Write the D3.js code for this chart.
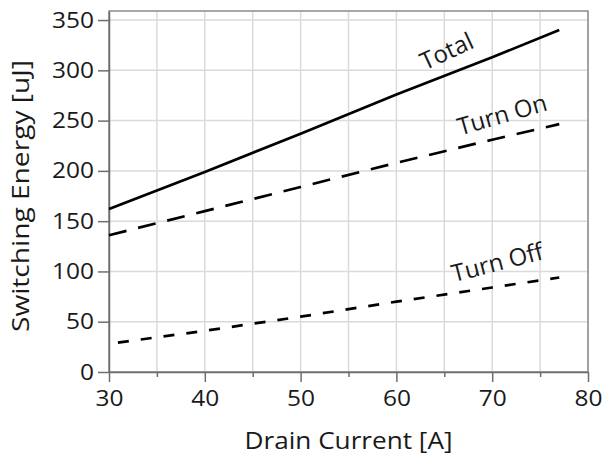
<!DOCTYPE html>
<html lang="en">
    <head>
        <title>Switching Energy</title>
        <script src="https://d3js.org/d3.v7.min.js" charset="utf-8"></script>
    </head>
    <style>
            body { margin: 0; background: #fff; }
            text { font-family: "Open Sans", "Noto Sans", sans-serif; fill: #1a1a1a; }
            .grid line { stroke: #dadada; stroke-width: 1.5px; }
            .frame { fill: none; stroke: #8c8c8c; stroke-width: 1.5px; }
            .axis path { stroke: #6e6e6e; stroke-width: 1.5px; }
            .axis line { stroke: #6e6e6e; stroke-width: 1.5px; }
            .axis text { font-size: 22px; fill: #1a1a1a; }
            .series { fill: none; stroke: #000; stroke-width: 2.7px; }
            .label { font-size: 24px; }
    </style>
    <body>
        <script>
            // values
            var current = [30, 40, 50, 60, 70, 77];
            var totalE = [162, 199, 237, 276, 313, 340];
            var turnOnE = [136, 160, 184, 208, 231, 246.5];
            var turnOffE = [28, 41, 55, 70, 84, 94];
            var xTicks = [30, 40, 50, 60, 70, 80];
            var xMinor = [35, 45, 55, 65, 75];
            var yTicks = [0, 50, 100, 150, 200, 250, 300, 350];

            var width = 605, height = 461;
            var margin = {top: 11, right: 17, bottom: 89, left: 109};

            var svg = d3.select("body").append("svg")
                .attr("width", width)
                .attr("height", height);

            var x = d3.scaleLinear()
                .domain([30, 80])
                .range([margin.left, width - margin.right]);
            var y = d3.scaleLinear()
                .domain([0, 359])
                .range([height - margin.bottom, margin.top]);

            // grid
            var grid = svg.append("g").attr("class", "grid");
            grid.selectAll(".gx")
                .data(xTicks.concat(xMinor))
                .enter().append("line")
                .attr("x1", x).attr("x2", x)
                .attr("y1", y(0)).attr("y2", margin.top);
            grid.selectAll(".gy")
                .data(yTicks)
                .enter().append("line")
                .attr("y1", y).attr("y2", y)
                .attr("x1", x(30)).attr("x2", x(80));

            svg.append("rect")
                .attr("class", "frame")
                .attr("x", x(30))
                .attr("y", margin.top)
                .attr("width", x(80) - x(30))
                .attr("height", y(0) - margin.top);

            // axes
            svg.append("g")
                .attr("class", "axis")
                .attr("transform", "translate(0," + y(0) + ")")
                .call(d3.axisBottom(x).tickValues(xMinor).tickSize(5).tickFormat(""))
                .select(".domain").remove();
            svg.append("g")
                .attr("class", "axis")
                .attr("transform", "translate(0," + y(0) + ")")
                .call(d3.axisBottom(x).tickValues(xTicks).tickSize(10).tickSizeOuter(0).tickPadding(8));

            svg.append("g")
                .attr("class", "axis")
                .attr("transform", "translate(" + x(30) + ",0)")
                .call(d3.axisLeft(y).tickValues(yTicks).tickSize(11).tickSizeOuter(0).tickPadding(4));

            // the digits in the picture are a bit wider than Open Sans
            svg.selectAll(".axis .tick text")
                .attr("textLength", function() { return this.textContent.length * 14; })
                .attr("lengthAdjust", "spacingAndGlyphs");

            // curves
            var line = d3.line()
                .x(function(d) { return x(d[0]); })
                .y(function(d) { return y(d[1]); });

            function pairs(vals) {
                return current.map(function(c, i) { return [c, vals[i]]; });
            }

            svg.append("path")
                .datum(pairs(totalE))
                .attr("class", "series")
                .attr("d", line);
            svg.append("path")
                .datum(pairs(turnOnE))
                .attr("class", "series")
                .attr("stroke-dasharray", "18,12")
                .attr("d", line);
            svg.append("path")
                .datum(pairs(turnOffE))
                .attr("class", "series")
                .attr("stroke-dasharray", "11,12")
                .attr("stroke-dashoffset", 14)
                .attr("d", line);

            // curve labels
            var labels = [
                {text: "Total", at: [65.2, 320], angle: -25},
                {text: "Turn On", at: [71, 257], angle: -16},
                {text: "Turn Off", at: [70.5, 110], angle: -14.5}
            ];
            svg.selectAll(".label")
                .data(labels)
                .enter().append("text")
                .attr("class", "label")
                .attr("text-anchor", "middle")
                .attr("dominant-baseline", "central")
                .attr("transform", function(d) {
                    return "translate(" + x(d.at[0]) + "," + y(d.at[1]) + ") rotate(" + d.angle + ")";
                })
                .text(function(d) { return d.text; });

            // axis titles
            svg.append("text")
                .attr("text-anchor", "middle")
                .attr("font-size", 24)
                .attr("textLength", 208)
                .attr("lengthAdjust", "spacingAndGlyphs")
                .attr("x", (x(30) + x(80)) / 2)
                .attr("y", 449)
                .text("Drain Current [A]");
            svg.append("text")
                .attr("text-anchor", "middle")
                .attr("font-size", 23)
                .attr("textLength", 272)
                .attr("lengthAdjust", "spacingAndGlyphs")
                .attr("transform", "translate(29,196) rotate(-90)")
                .text("Switching Energy [uJ]");
        </script>
    </body>
</html>
